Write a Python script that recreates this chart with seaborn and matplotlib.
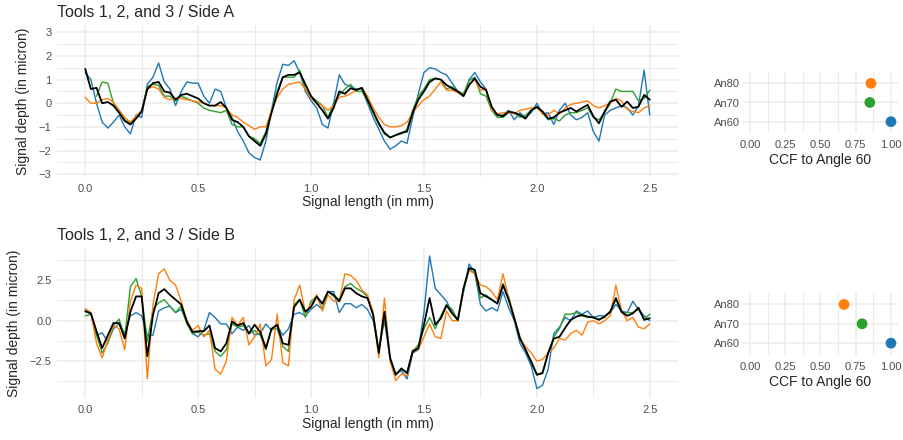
import numpy as np
import pandas as pd
import matplotlib
matplotlib.use("Agg")
import matplotlib.pyplot as plt
from matplotlib.ticker import MultipleLocator
import seaborn as sns

# sampling positions along the signal (mm)
signal_length = np.linspace(0, 2.5, 101)

# Side A signals (micron)
side_a_an60 = [
    1.3, 1.0, 0.0, -0.8, -1.05, -0.8, -0.5, -1.0, -1.3, -0.5,
    -0.6, 0.8, 1.1, 1.7, 0.9, 0.6, -0.1, 0.5, 0.9, 0.85,
    0.85, 0.3, 0.0, 0.6, 0.5, -0.2, -0.6, -1.2, -1.6, -2.1,
    -2.3, -2.4, -1.6, -0.3, 0.9, 1.65, 1.6, 1.8, 1.3, 0.5,
    0.1, -0.2, -0.9, -1.05, 0.0, 1.2, 0.8,
    0.7, 0.6, 0.6, 0.0, -0.6, -1.1, -1.6, -1.95, -1.8, -1.6,
    -1.7, -0.6, 0.4, 1.3, 1.5, 1.45, 1.3, 1.2, 0.85, 0.5,
    0.3, 1.0, 1.3, 0.9, 0.6, -0.3, -0.5, -0.5, -0.3, -0.7,
    -0.4, -0.6, -0.4, 0.0, -0.45, -0.4, -0.9, -0.3, 0.0, -0.5,
    -0.7, -0.6, -0.4, -1.2, -1.6, -0.5, -0.3, -0.2, -0.1, -0.2,
    -0.5, -0.1, 1.4, -0.5,
]
side_a_an70 = [
    np.nan, np.nan, 0.3, 0.9, 0.85, 0.0, -0.3, -0.7, -0.85, -0.6,
    -0.3, 0.7, 0.8, 0.75, 0.3, 0.3, 0.1, 0.3, 0.2, 0.1,
    0.0, -0.2, -0.3, -0.35, -0.4, -0.3, -0.9, -1.0, -1.0, -1.4,
    -1.5, -1.7, -1.2, -0.3, 0.5, 1.1, 1.1, 1.1, 1.4, 0.6,
    0.3, 0.1, -0.1, -0.6, 0.0, 0.35, 0.6,
    0.8, 0.5, 0.5, 0.1, -0.4, -0.9, -1.3, -1.45, -1.35, -1.3,
    -1.1, -0.3, 0.3, 0.6, 1.0, 1.05, 1.0, 0.6, 0.7, 0.5,
    0.4, 0.95, 1.1, 0.4, 0.3, -0.3, -0.6, -0.6, -0.4, -0.4,
    -0.6, -0.5, -0.3, -0.2, -0.4, -0.7, -0.65, -0.75, -0.5, -0.4,
    -0.4, -0.3, -0.2, -0.6, -0.7, -0.4, 0.0, 0.6, 0.5, 0.5,
    0.5, 0.1, 0.2, 0.55,
]
side_a_an80 = [
    0.25, 0.0, 0.0, 0.15, 0.2, 0.05, -0.3, -0.6, -0.8, -0.55,
    -0.3, 0.6, 0.7, 0.6, 0.25, 0.15, 0.2, 0.2, 0.15, 0.1,
    0.05, 0.0, -0.1, -0.1, -0.1, -0.2, -0.5, -0.6, -0.8, -0.95,
    -1.1, -1.0, -1.0, -0.3, 0.25, 0.6, 0.8, 0.85, 0.9, 0.6,
    0.2, 0.0, -0.1, -0.3, -0.1, 0.25, 0.3,
    0.4, 0.55, 0.65, 0.3, -0.2, -0.6, -0.9, -1.0, -1.0, -0.95,
    -0.8, -0.4, -0.1, 0.15, 0.3, 0.6, 0.9, 0.55, 0.55, 0.45,
    0.3, 0.8, 1.0, 0.55, 0.6, -0.3, -0.45, -0.4, -0.4, -0.45,
    -0.3, -0.25, -0.2, -0.15, -0.45, -0.5, -0.3, -0.45, -0.2, -0.05,
    0.0, 0.05, 0.1, -0.1, -0.2, -0.1, 0.0, 0.2, 0.1, -0.25,
    -0.35, -0.4, -0.2, -0.1,
]
side_a_avg = [
    1.45, 0.6, 0.65, 0.0, 0.05, -0.1, -0.4, -0.75, -0.9, -0.65,
    -0.35, 0.6, 0.85, 0.9, 0.5, 0.45, 0.15, 0.35, 0.4, 0.3,
    0.2, 0.0, -0.1, -0.1, 0.05, -0.2, -0.7, -0.8, -1.0, -1.4,
    -1.6, -1.8, -1.3, -0.4, 0.4, 1.1, 1.2, 1.2, 1.3, 0.8,
    0.3, 0.0, -0.3, -0.65, -0.2, 0.5, 0.4,
    0.63, 0.56, 0.65, 0.15, -0.35, -0.85, -1.25, -1.45, -1.35, -1.25,
    -1.2, -0.4, 0.15, 0.5, 0.9, 1.05, 1.0, 0.77, 0.63, 0.5,
    0.3, 0.77, 1.05, 0.7, 0.56, -0.15, -0.5, -0.55, -0.35, -0.4,
    -0.5, -0.65, -0.3, -0.15, -0.35, -0.65, -0.6, -0.4, -0.3, -0.2,
    -0.35, -0.2, -0.07, -0.55, -0.85, -0.35, 0.07, 0.15, -0.15, 0.07,
    -0.2, -0.15, 0.35, 0.15,
]

# Side B signals (micron)
side_b_an60 = [
    0.55, 0.45, -0.9, -0.75, -1.3, -0.5, -0.2, -0.8, 0.3, 0.5,
    0.3, -0.9, -0.9, 0.6, 0.8, 0.9, 0.5, 0.7, -0.1, -0.8,
    -1.0, -0.6, 0.5, 0.2, -0.2, -0.2, -0.8, -0.4, -0.6, -0.3,
    -0.9, -0.8, -0.2, -0.6, -0.3, -0.9, -0.5, 0.4, 0.5, 0.3,
    0.7, 1.0, 0.7, 1.8, 1.8, 0.5, 1.05,
    1.05, 0.8, 1.0, 0.7, 0.0, -1.8, 0.0, -2.3, -3.3, -3.1,
    -3.6, -2.0, -1.8, 0.5, 4.0, 2.0, 1.6, 1.2, 0.5, 0.0,
    1.8, 3.5, 3.0, 1.0, 0.6, 0.8, 0.6, 1.8, 0.8, 0.0,
    -1.4, -2.0, -2.8, -4.2, -4.0, -3.0, -0.8, -0.4, 0.2, 0.0,
    0.6, 0.4, 0.6, 0.2, 0.3, 0.3, 0.5, 1.0, 0.6, 0.5,
    1.2, 0.7, 0.3, 0.0,
]
side_b_an70 = [
    0.3, 0.4, -0.9, -2.0, -1.4, -0.3, 0.1, -1.0, 2.1, 2.6,
    1.5, -1.3, 0.7, 1.1, 1.3, 0.9, 0.5, 0.9, -0.2, -0.8,
    -0.7, -0.9, -0.8, -1.9, -2.2, -1.8, -0.2, -0.4, -0.3, -0.8,
    -0.6, -0.9, -1.8, -0.5, -0.5, -1.6, -1.9, 1.0, 1.3, 0.2,
    1.2, 1.5, 0.7, 1.8, 1.5, 1.3, 2.1,
    2.3, 2.0, 1.8, 1.5, 0.5, -1.9, 0.5, -2.4, -3.3, -3.0,
    -3.2, -1.9, -1.5, -0.5, 0.2, -0.5, 0.3, 1.0, 0.7, 0.0,
    1.8, 3.2, 2.9, 1.4, 1.6, 1.3, 1.1, 2.3, 1.5, 0.2,
    -1.0, -1.8, -2.5, -3.3, -3.2, -2.0, -1.0, -0.5, 0.4, 0.4,
    0.5, 0.3, 0.2, 0.2, 0.1, 0.2, 0.6, 1.3, 0.5, 0.5,
    0.5, 0.7, 0.1, 0.4,
]
side_b_an80 = [
    0.75, 0.5, -1.4, -2.3, -1.2, -0.3, -0.5, -1.8, 1.2, 2.2,
    2.0, -3.6, 1.0, 2.9, 3.2, 2.5, 2.2, 1.2, 0.0, -0.6,
    -0.3, -1.0, -0.6, -3.0, -3.3, -2.5, 0.2, -0.3, 0.2, -1.5,
    -1.0, -0.2, -2.8, -2.4, 0.4, -2.6, -2.8, 1.3, 2.2, 0.5,
    1.0, 1.6, 0.6, 1.6, 1.2, 1.2, 2.9,
    2.8, 2.5, 1.9, 1.6, 0.5, -2.3, 1.4, -2.5, -3.7, -3.3,
    -3.4, -1.8, -1.8, -1.0, -0.2, -1.0, -1.1, 0.6, 0.0, 0.0,
    2.0, 3.1, 2.9, 2.2, 2.1, 1.8, 1.3, 2.9, 1.4, 0.2,
    -1.1, -1.6, -2.0, -2.5, -2.4, -2.0, -1.7, -1.1, -1.2, -0.8,
    -0.6, -0.9, -0.1, 0.0, -0.2, 0.0, 0.3, 2.2, 0.6, 0.0,
    0.2, -0.4, -0.5, -0.2,
]
side_b_avg = [
    0.6, 0.45, -0.65, -1.7, -0.9, -0.15, -0.15, -1.1, 0.55, 1.5,
    1.5, -2.2, 0.35, 1.7, 1.95, 1.6, 1.3, 1.0, -0.05, -0.7,
    -0.65, -0.65, -0.3, -1.7, -1.9, -1.4, -0.05, -0.3, -0.15, -0.8,
    -0.25, -0.7, -1.7, -0.5, -0.25, -1.4, -1.5, 0.85, 1.3, 0.55,
    0.85, 1.5, 1.05, 1.8, 1.6, 1.2, 2.0,
    2.0, 1.7, 1.5, 1.4, 0.35, -2.0, 0.55, -2.3, -3.35, -2.95,
    -3.25, -1.9, -1.7, -0.25, 1.4, -0.25, 0.15, 0.95, 0.45, 0.05,
    2.0, 3.25, 3.15, 1.7, 1.5, 1.3, 1.05, 2.2, 1.3, 0.15,
    -1.1, -1.8, -2.55, -3.35, -3.25, -2.0, -1.1, -1.0, -0.45, 0.05,
    0.25, 0.35, 0.25, 0.2, 0.05, 0.25, 0.55, 1.4, 0.55, 0.3,
    0.45, 0.8, 0.05, 0.15,
]

# cross-correlation to angle 60
angles = ["An60", "An70", "An80"]
ccf_side_a = [1.0, 0.85, 0.858]
ccf_side_b = [1.0, 0.795, 0.667]

angle_colors = {"An60": "#1f77b4", "An70": "#2ca02c", "An80": "#ff7f0e"}
GRID = "#ebebeb"
TICK = "#4d4d4d"


def signal_frame(an60, an70, an80):
    frames = []
    for name, vals in zip(angles, [an60, an70, an80]):
        frames.append(pd.DataFrame({"length": signal_length, "depth": vals, "angle": name}))
    return pd.concat(frames, ignore_index=True)


def style_axes(ax, tick_pad_x, tick_pad_y):
    for s in ax.spines.values():
        s.set_visible(False)
    ax.set_facecolor("white")
    ax.grid(which="major", color=GRID, linewidth=1.1)
    ax.grid(which="minor", color=GRID, linewidth=0.75)
    ax.set_axisbelow(True)
    ax.tick_params(which="both", length=0, labelsize=8, labelcolor=TICK)
    ax.tick_params(axis="x", pad=tick_pad_x)
    ax.tick_params(axis="y", pad=tick_pad_y)


def draw_signal(ax, an60, an70, an80, avg, title, ylim, major, minor):
    df = signal_frame(an60, an70, an80)
    sns.lineplot(data=df, x="length", y="depth", hue="angle", palette=angle_colors,
                 estimator=None, legend=False, linewidth=1.0, ax=ax)
    avg_df = pd.DataFrame({"length": signal_length, "depth": avg})
    sns.lineplot(data=avg_df, x="length", y="depth", color="black",
                 estimator=None, linewidth=1.3, ax=ax)
    ax.set_xlim(-0.125, 2.625)
    ax.set_ylim(*ylim)
    ax.xaxis.set_major_locator(MultipleLocator(0.5))
    ax.xaxis.set_minor_locator(MultipleLocator(0.25))
    ax.yaxis.set_major_locator(MultipleLocator(major))
    ax.yaxis.set_minor_locator(MultipleLocator(minor))
    style_axes(ax, 5, 4)
    ax.set_xlabel("Signal length (in mm)", fontsize=10, labelpad=1)
    ax.set_ylabel("Signal depth (in micron)", fontsize=10, labelpad=6)
    ax.set_title(title, loc="left", fontsize=11.5, pad=6)


def draw_ccf(ax, ccf):
    df = pd.DataFrame({"ccf": ccf, "angle": angles})
    sns.scatterplot(data=df, x="ccf", y="angle", hue="angle", palette=angle_colors,
                    s=60, linewidth=0, legend=False, ax=ax)
    ax.set_xlim(-0.05, 1.05)
    ax.set_ylim(-0.6, 2.6)
    ax.set_xticks([0, 0.25, 0.5, 0.75, 1.0])
    ax.set_xticklabels(["0.00", "0.25", "0.50", "0.75", "1.00"])
    ax.xaxis.set_minor_locator(MultipleLocator(0.125))
    style_axes(ax, 5, 2)
    ax.grid(which="minor", axis="y", visible=False)
    ax.set_xlabel("CCF to Angle 60", fontsize=10, labelpad=2)
    ax.set_ylabel("")


sns.set_theme(style="whitegrid")
plt.rcParams["font.family"] = ["Liberation Sans", "DejaVu Sans"]

W, H = 904, 440
fig = plt.figure(figsize=(W / 100, H / 100), dpi=100)


def box(x0, y0, x1, y1):
    return [x0 / W, 1 - y1 / H, (x1 - x0) / W, (y1 - y0) / H]


ax_a = fig.add_axes(box(57, 25.2, 678, 177))
ax_b = fig.add_axes(box(57, 247.9, 678, 398.3))
ax_ca = fig.add_axes(box(743, 71.8, 898, 133.2))
ax_cb = fig.add_axes(box(743, 292.8, 898, 354.8))

draw_signal(ax_a, side_a_an60, side_a_an70, side_a_an80, side_a_avg,
            "Tools 1, 2, and 3 / Side A", (-3.12, 3.3), 1, 0.5)
draw_signal(ax_b, side_b_an60, side_b_an70, side_b_an80, side_b_avg,
            "Tools 1, 2, and 3 / Side B", (-4.8, 4.5), 2.5, 1.25)
draw_ccf(ax_ca, ccf_side_a)
draw_ccf(ax_cb, ccf_side_b)

fig.savefig("out.png", dpi=100, facecolor="white")
